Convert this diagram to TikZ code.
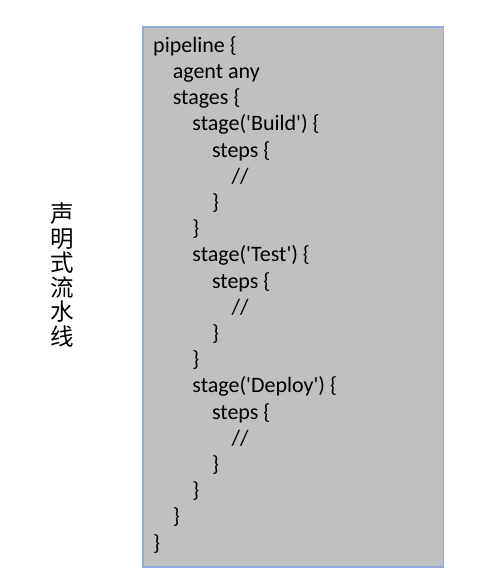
\documentclass[tikz,border=0pt]{standalone}
\usepackage{fontspec}
\setmainfont{Carlito}
\newfontfamily\cjk{Noto Sans CJK SC}
\usetikzlibrary{positioning}
\definecolor{panelgray}{HTML}{C0C0C0}
\definecolor{panelblue}{HTML}{8FAADC}
\tikzset{
    panel/.style={draw=panelblue, fill=panelgray, line width=1.5pt},
    code/.style={anchor=base west, inner sep=0pt, font=\fontsize{22}{26}\selectfont},
    title/.style={align=center, inner sep=0pt, font=\cjk\fontsize{23.5}{24.5}\selectfont},
}
\newcommand{\sq}{\textquotesingle}

\begin{document}
\begin{tikzpicture}[x=1pt,y=-1pt]
    \useasboundingbox (0,0) rectangle (495,580);

    % Title, set vertically
    \node[title] (title) at (62.5,275) {声\\明\\式\\流\\水\\线};

    % Code panel
    \draw[panel] (143,27) rectangle (443.5,567);

    % Pipeline block
    \node[code] (pipe) at (153,52.3) {pipeline \{};
    \node[code] (agent) at (172.6,78.5) {agent any};
    \node[code] (stages) at (172.6,104.7) {stages \{};

    % Build stage
    \node[code] (build) at (192.2,130.9) {stage(\sq Build\sq) \{};
    \node[code] (buildsteps) at (211.8,157.1) {steps \{};
    \node[code] (buildbody) at (231.4,183.3) {//};
    \node[code] (buildstepsend) at (211.8,209.5) {\}};
    \node[code] (buildend) at (192.2,235.7) {\}};

    % Test stage
    \node[code] (test) at (192.2,261.9) {stage(\sq Test\sq) \{};
    \node[code] (teststeps) at (211.8,288.1) {steps \{};
    \node[code] (testbody) at (231.4,314.3) {//};
    \node[code] (teststepsend) at (211.8,340.5) {\}};
    \node[code] (testend) at (192.2,366.7) {\}};

    % Deploy stage
    \node[code] (deploy) at (192.2,392.9) {stage(\sq Deploy\sq) \{};
    \node[code] (deploysteps) at (211.8,419.1) {steps \{};
    \node[code] (deploybody) at (231.4,445.3) {//};
    \node[code] (deploystepsend) at (211.8,471.5) {\}};
    \node[code] (deployend) at (192.2,497.7) {\}};

    % Closing braces
    \node[code] (stagesend) at (172.6,523.9) {\}};
    \node[code] (pipeend) at (153,550.1) {\}};
\end{tikzpicture}
\end{document}
